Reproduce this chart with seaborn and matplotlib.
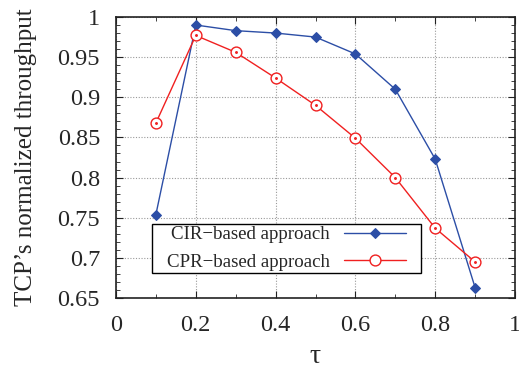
import numpy as np
import pandas as pd
import matplotlib
matplotlib.use("Agg")
import matplotlib.pyplot as plt
from matplotlib.ticker import MultipleLocator
from matplotlib.patches import Rectangle
import seaborn as sns

# values
tau = [0.1, 0.2, 0.3, 0.4, 0.5, 0.6, 0.7, 0.8, 0.9]
cir = [0.754, 0.990, 0.983, 0.980, 0.975, 0.954, 0.910, 0.823, 0.663]
cpr = [0.868, 0.977, 0.956, 0.924, 0.890, 0.849, 0.800, 0.737, 0.695]
series_names = ["CIR\u2212based approach", "CPR\u2212based approach"]
x_ticks = [0, 0.2, 0.4, 0.6, 0.8, 1]
x_labels = ["0", "0.2", "0.4", "0.6", "0.8", "1"]
y_ticks = [0.65, 0.7, 0.75, 0.8, 0.85, 0.9, 0.95, 1]
y_labels = ["0.65", "0.7", "0.75", "0.8", "0.85", "0.9", "0.95", "1"]

sns.set_style("ticks")
plt.rcParams["font.family"] = ["Liberation Serif", "DejaVu Serif"]

df = pd.DataFrame({
    "tau": tau * 2,
    "value": cir + cpr,
    "series": [series_names[0]] * len(tau) + [series_names[1]] * len(tau),
})

W, H = 519, 370
fig = plt.figure(figsize=(W / 100, H / 100), dpi=100)
ax = fig.add_axes([116 / W, 1 - 298 / H, (515 - 116) / W, (298 - 17) / H])

ax.grid(True, which="major", color="#9a9a9a", linestyle=(0, (1, 1.5)), linewidth=0.8)
ax.set_axisbelow(True)

sns.lineplot(data=df[df.series == series_names[0]], x="tau", y="value", ax=ax,
             color="#2c4ea6", linewidth=1.0, marker="D", markersize=5.5,
             markeredgecolor="#2c4ea6", markerfacecolor="#2c4ea6",
             label=series_names[0])
sns.lineplot(data=df[df.series == series_names[1]], x="tau", y="value", ax=ax,
             color="#f02020", linewidth=1.0, marker="o", markersize=7.8,
             markeredgecolor="#f02020", markerfacecolor="white", markeredgewidth=1.0,
             label=series_names[1])
# small centre dots of the circle-dot points
ax.scatter(tau, cpr, s=1.2, color="#f02020", zorder=5)

ax.set_xlim(0, 1)
ax.set_ylim(0.65, 1)
ax.set_xticks(x_ticks)
ax.set_xticklabels(x_labels)
ax.set_yticks(y_ticks)
ax.set_yticklabels(y_labels)
ax.xaxis.set_minor_locator(MultipleLocator(0.1))
ax.yaxis.set_minor_locator(MultipleLocator(0.01))
ax.tick_params(which="both", direction="in", top=True, right=True, labelsize=17.5,
               color="#222222")
ax.tick_params(which="major", length=5, width=0.8)
ax.tick_params(which="minor", length=3, width=0.6)
ax.tick_params(axis="x", pad=12)
ax.tick_params(axis="y", pad=11.5)
for s in ax.spines.values():
    s.set_linewidth(1.2)
    s.set_color("#222222")

ax.set_xlabel("\u03c4", fontsize=20, labelpad=6)
ax.set_ylabel("TCP\u2019s normalized throughput", fontsize=18, labelpad=15)

leg = ax.legend(loc="upper left", bbox_to_anchor=(167 / W, 1 - 226 / H),
                bbox_transform=fig.transFigure, markerfirst=False,
                fontsize=13.6, frameon=False, handlelength=3.3, borderpad=0,
                borderaxespad=0, labelspacing=0.55, handletextpad=0.75)
for t in leg.get_texts():
    t.set_ha("right")

# gnuplot-style key box: wider side padding than top/bottom
fig.canvas.draw()
bb = leg.get_window_extent().transformed(fig.transFigure.inverted())
px, py = 15 / W, 2 / H
ax.add_patch(Rectangle((bb.x0 - px, bb.y0 - py), bb.width + 2 * px, bb.height + 2 * py,
                       transform=fig.transFigure, facecolor="white", edgecolor="black",
                       linewidth=1.0, zorder=4))
leg.set_zorder(6)

fig.savefig("out.png", dpi=100)
